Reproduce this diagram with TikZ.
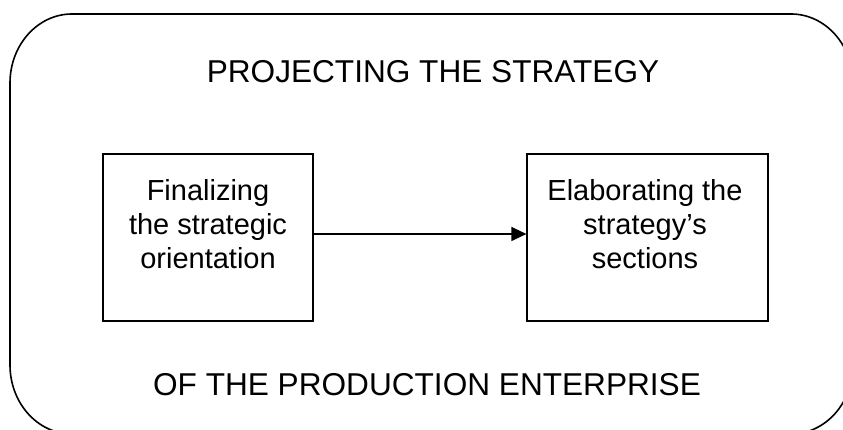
\documentclass[tikz,border=0pt]{standalone}
\usepackage{fontspec}
\setmainfont{Liberation Sans}
\usetikzlibrary{arrows.meta}
\tikzset{
  frame/.style={line width=1.6pt},
  stagebox/.style={draw, line width=1.2pt, minimum width=210pt, minimum height=167pt, inner sep=0pt},
  stagetext/.style={anchor=north, inner sep=0pt, align=center, font=\fontsize{29}{34}\selectfont},
  headtext/.style={anchor=base, inner sep=0pt, font=\fontsize{31.6}{36}\selectfont},
  flow/.style={line width=1.2pt, -{Triangle[length=15pt,width=14pt]}}
}
\begin{document}
\begin{tikzpicture}[x=1pt,y=1pt]
\useasboundingbox (0,0) rectangle (843,430);
\clip (0,0) rectangle (843,430);
% outer rounded frame
\draw[frame] (10,65) -- (10,347)
  arc[start angle=180, end angle=90, x radius=62, y radius=69]
  -- (791,416)
  arc[start angle=90, end angle=0, x radius=62, y radius=69]
  -- (853,65)
  arc[start angle=0, end angle=-90, x radius=62, y radius=69]
  -- (72,-4)
  arc[start angle=270, end angle=180, x radius=62, y radius=69]
  -- cycle;
% headings
\node[headtext] (title) at (433,347) {PROJECTING THE STRATEGY};
\node[headtext] (subtitle) at (427,34) {OF THE PRODUCTION ENTERPRISE};
% boxes
\node[stagebox] (L) at (208,192.5) {};
\node[stagebox, minimum width=241pt] (R) at (647.5,192.5) {};
\node[stagetext] (Lt) at (208,251) {Finalizing\\the strategic\\orientation};
\node[stagetext] (Rt) at (645,251) {Elaborating the\\strategy’s\\sections};
% connector
\draw[flow] ([yshift=3.5pt]L.east) -- ([yshift=3.5pt]R.west);
\end{tikzpicture}
\end{document}
